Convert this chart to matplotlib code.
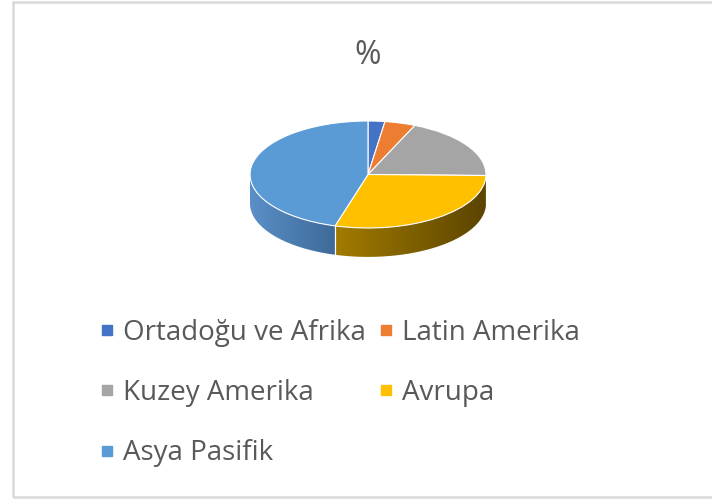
import numpy as np
import matplotlib.pyplot as plt
from matplotlib.patches import Polygon, Rectangle
from matplotlib.lines import Line2D
from matplotlib.colors import to_rgb

# Veriler
regions = ["Ortadoğu ve Afrika", "Latin Amerika", "Kuzey Amerika", "Avrupa", "Asya Pasifik"]
shares = [2.3, 4.2, 18.8, 29.2, 45.5]
title = "%"

# Stil
top_colors = ["#4472C4", "#ED7D31", "#A5A5A5", "#FFC000", "#5B9BD5"]
side_left = ["#34589a", "#b05a20", "#7a7a7a", "#a27b00", "#5a8fc8"]
side_right = ["#284478", "#8a4618", "#5e5e5e", "#5c4400", "#3e6a98"]
depth = 0.54

plt.rcParams['font.family'] = ['Open Sans', 'DejaVu Sans']

fig = plt.figure(figsize=(7.12, 4.99), dpi=100)

# cerceve
fig.add_artist(Rectangle((12.5 / 712, 2 / 499), 720 / 712, 495 / 499,
                         transform=fig.transFigure, fill=False,
                         edgecolor="#d9d9d9", linewidth=1.8))

ax = fig.add_axes([200 / 712, 209 / 499, 336 / 712, 200 / 499])

# yan yuzeyler (3B etkisi)
total = sum(shares)
cum = np.concatenate([[0], np.cumsum(shares)])
for i in range(len(shares)):
    a_start = 90 - cum[i] * 360 / total
    a_end = 90 - cum[i + 1] * 360 / total
    # gorunen on yari: -180..0 derece
    lo, hi = max(a_end, -180), min(a_start, 0)
    if lo >= hi:
        continue
    ts = np.radians(np.linspace(lo, hi, 200))
    upper = np.column_stack([np.cos(ts), np.sin(ts)])
    lower = np.column_stack([np.cos(ts[::-1]), np.sin(ts[::-1]) - depth])
    side = Polygon(np.vstack([upper, lower]), closed=True, facecolor='none',
                   edgecolor='none', zorder=1)
    ax.add_patch(side)
    x_a, x_b = np.cos(ts).min(), np.cos(ts).max()
    c0, c1 = np.array(to_rgb(side_left[i])), np.array(to_rgb(side_right[i]))
    grad = np.linspace(0, 1, 256)[None, :, None]
    img = c0 + (c1 - c0) * grad
    im = ax.imshow(img, extent=(x_a, x_b, -1 - depth, 0.1), aspect='auto',
                   interpolation='bilinear', zorder=1)
    im.set_clip_path(side)
    # dilim siniri
    for a in (lo, hi):
        if -180 < a < 0:
            r = np.radians(a)
            ax.plot([np.cos(r), np.cos(r)], [np.sin(r), np.sin(r) - depth],
                    color="white", lw=0.8, zorder=2)

wedges, _ = ax.pie(shares, colors=top_colors, startangle=90, counterclock=False,
                   radius=1, wedgeprops=dict(edgecolor="white", linewidth=0.8))
for w in wedges:
    w.set_zorder(3)

ax.set_aspect('auto')
ax.set_xlim(-168 / 118, 168 / 118)
ax.set_ylim(-115.5 / 53.5, (200 - 115.5) / 53.5)
ax.axis('off')

fig.text(368 / 712, 1 - 55 / 499, title, ha='center', va='center',
         fontsize=23, color="#595959")

# lejant: satir sirasina gore
order = [0, 2, 4, 1, 3]
handles = [Line2D([], [], marker='s', linestyle='none', markersize=6.5,
                  color=top_colors[k]) for k in order]
labels = [regions[k] for k in order]
fig.legend(handles, labels, ncol=2, loc='upper left',
           bbox_to_anchor=(88 / 712, 1 - 305 / 499), frameon=False,
           fontsize=20, labelcolor="#595959", handlelength=0.4,
           handletextpad=0.35, columnspacing=0.55, labelspacing=1.16,
           borderpad=0)

fig.savefig("out.png", dpi=100)
